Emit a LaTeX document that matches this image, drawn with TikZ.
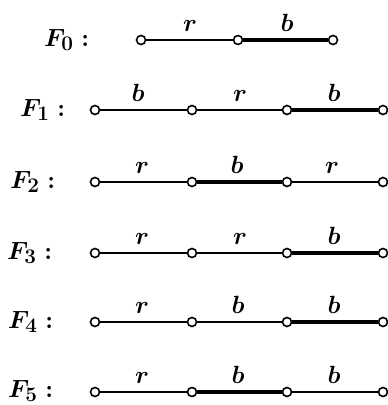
\documentclass[tikz,border=0pt]{standalone}
\begin{document}
\begin{tikzpicture}[x=1pt,y=-1pt,
  vtx/.style={circle,draw,fill=white,line width=1.6pt,inner sep=0pt,minimum size=9pt},
  thin/.style={line width=1.2pt},
  thick/.style={line width=4pt},
  elab/.style={anchor=base,inner sep=0pt,font=\fontsize{24.88}{30}\selectfont\boldmath},
  flab/.style={anchor=base west,inner sep=0pt,font=\fontsize{24.88}{30}\selectfont\boldmath}]
\useasboundingbox (0,0) rectangle (388,405);
% F0
\node[flab] (l0) at (44,46) {$F_0:$};
\node[vtx] (a0) at (141,40) {};
\node[vtx] (b0) at (238,40) {};
\node[vtx] (c0) at (333,40) {};
\draw[thin] (a0) -- (b0);
\draw[thick] (b0) -- (c0);
\node[elab] (e01) at (190,31) {$r$};
\node[elab] (e02) at (287,31) {$b$};
% F1
\node[flab] (l1) at (20,116) {$F_1:$};
\node[vtx] (a1) at (95,110) {};
\node[vtx] (b1) at (192,110) {};
\node[vtx] (c1) at (287,110) {};
\node[vtx] (d1) at (383,110) {};
\draw[thin] (a1) -- (b1);
\draw[thin] (b1) -- (c1);
\draw[thick] (c1) -- (d1);
\node[elab] (e11) at (138,101) {$b$};
\node[elab] (e12) at (240,101) {$r$};
\node[elab] (e13) at (334,101) {$b$};
% F2
\node[flab] (l2) at (10,188) {$F_2:$};
\node[vtx] (a2) at (95,182) {};
\node[vtx] (b2) at (192,182) {};
\node[vtx] (c2) at (287,182) {};
\node[vtx] (d2) at (383,182) {};
\draw[thin] (a2) -- (b2);
\draw[thick] (b2) -- (c2);
\draw[thin] (c2) -- (d2);
\node[elab] (e21) at (142,173) {$r$};
\node[elab] (e22) at (237,173) {$b$};
\node[elab] (e23) at (332,173) {$r$};
% F3
\node[flab] (l3) at (7,259) {$F_3:$};
\node[vtx] (a3) at (95,253) {};
\node[vtx] (b3) at (192,253) {};
\node[vtx] (c3) at (287,253) {};
\node[vtx] (d3) at (383,253) {};
\draw[thin] (a3) -- (b3);
\draw[thin] (b3) -- (c3);
\draw[thick] (c3) -- (d3);
\node[elab] (e31) at (142,244) {$r$};
\node[elab] (e32) at (240,244) {$r$};
\node[elab] (e33) at (334,244) {$b$};
% F4
\node[flab] (l4) at (8,328) {$F_4:$};
\node[vtx] (a4) at (95,322) {};
\node[vtx] (b4) at (192,322) {};
\node[vtx] (c4) at (287,322) {};
\node[vtx] (d4) at (383,322) {};
\draw[thin] (a4) -- (b4);
\draw[thin] (b4) -- (c4);
\draw[thick] (c4) -- (d4);
\node[elab] (e41) at (142,313) {$r$};
\node[elab] (e42) at (238,313) {$b$};
\node[elab] (e43) at (334,313) {$b$};
% F5
\node[flab] (l5) at (8,397) {$F_5:$};
\node[vtx] (a5) at (95,392) {};
\node[vtx] (b5) at (192,392) {};
\node[vtx] (c5) at (287,392) {};
\node[vtx] (d5) at (383,392) {};
\draw[thin] (a5) -- (b5);
\draw[thick] (b5) -- (c5);
\draw[thin] (c5) -- (d5);
\node[elab] (e51) at (142,383) {$r$};
\node[elab] (e52) at (238,383) {$b$};
\node[elab] (e53) at (334,383) {$b$};
\end{tikzpicture}
\end{document}
